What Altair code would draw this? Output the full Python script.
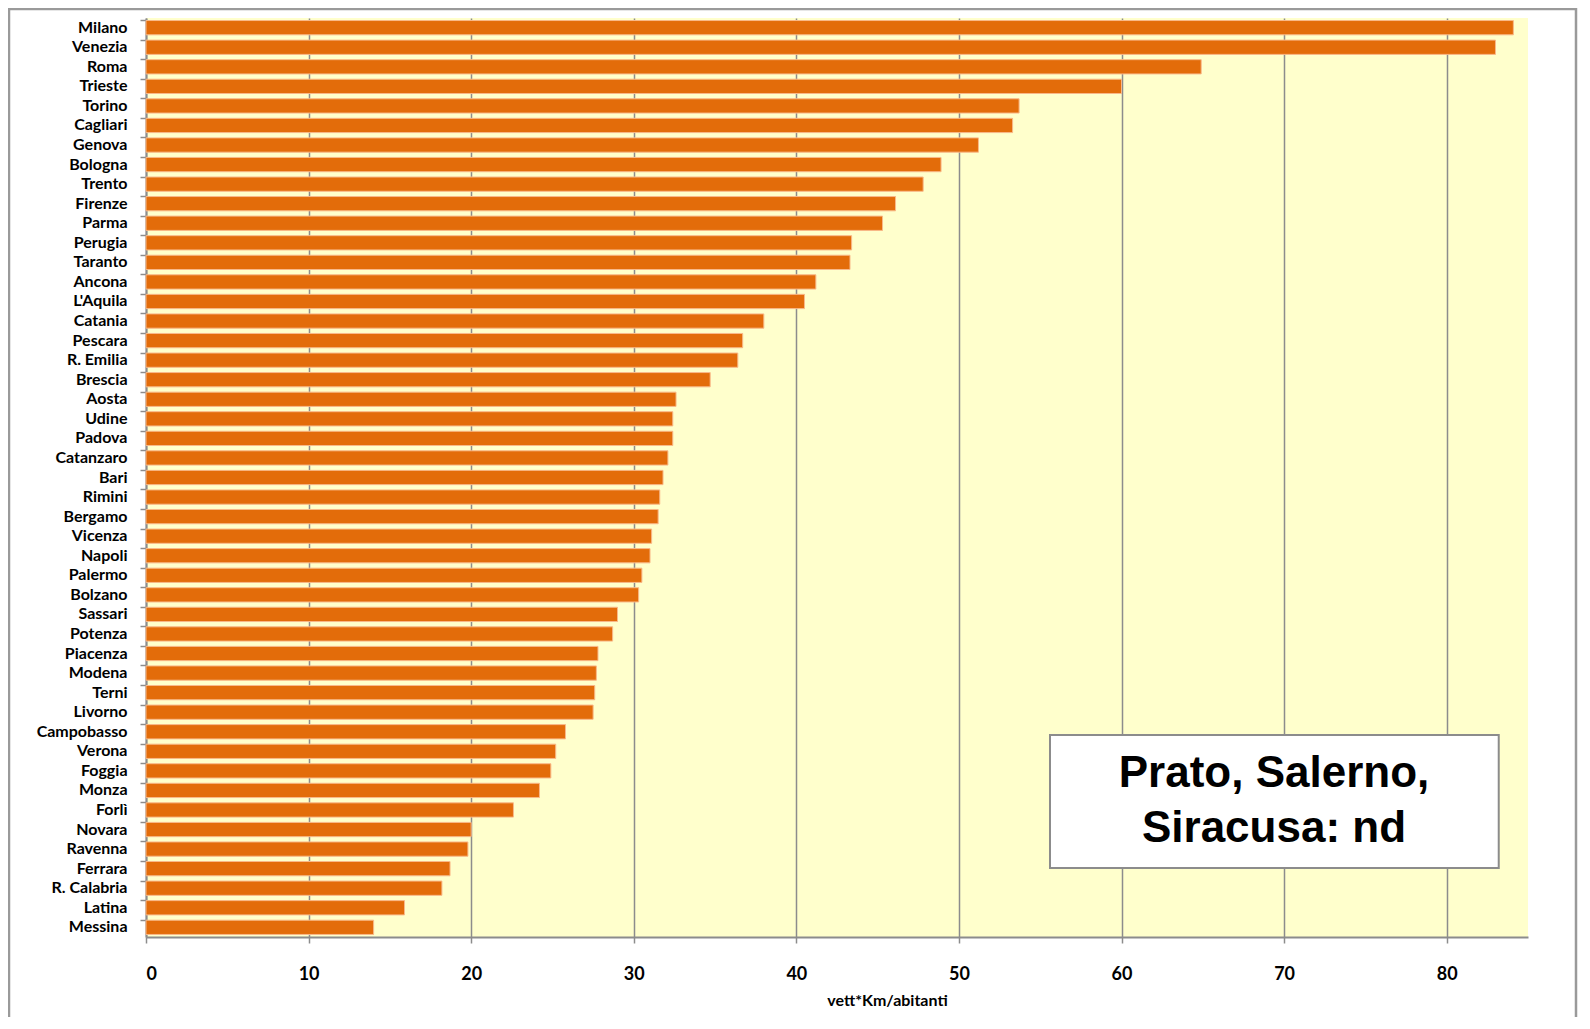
import altair as alt
import pandas as pd

cities = ["Milano", "Venezia", "Roma", "Trieste", "Torino", "Cagliari", "Genova", "Bologna",
          "Trento", "Firenze", "Parma", "Perugia", "Taranto", "Ancona", "L'Aquila", "Catania",
          "Pescara", "R. Emilia", "Brescia", "Aosta", "Udine", "Padova", "Catanzaro", "Bari",
          "Rimini", "Bergamo", "Vicenza", "Napoli", "Palermo", "Bolzano", "Sassari", "Potenza",
          "Piacenza", "Modena", "Terni", "Livorno", "Campobasso", "Verona", "Foggia", "Monza",
          "Forlì", "Novara", "Ravenna", "Ferrara", "R. Calabria", "Latina", "Messina"]
values = [84.1, 83.0, 64.9, 60.0, 53.7, 53.3, 51.2, 48.9,
          47.8, 46.1, 45.3, 43.4, 43.3, 41.2, 40.5, 38.0,
          36.7, 36.4, 34.7, 32.6, 32.4, 32.4, 32.1, 31.8,
          31.6, 31.5, 31.1, 31.0, 30.5, 30.3, 29.0, 28.7,
          27.8, 27.7, 27.6, 27.5, 25.8, 25.2, 24.9, 24.2,
          22.6, 20.0, 19.8, 18.7, 18.2, 15.9, 14.0]
x_ticks = [0, 10, 20, 30, 40, 50, 60, 70, 80]
note_text = "Prato, Salerno,\nSiracusa: nd"
note_x = [55.6, 83.2]

df = pd.DataFrame({"city": cities, "value": values})

W, H = 1382, 919
FONT = "Lato"

bars = alt.Chart(df).mark_bar(
    color="#E36C0A", stroke="#F9B98A", strokeWidth=1
).encode(
    x=alt.X("value:Q",
            scale=alt.Scale(domain=[0, 85], nice=False, zero=True),
            axis=alt.Axis(values=x_ticks, title="vett*Km/abitanti", format="d",
                          grid=True, gridColor="#8C8C8C", gridWidth=1.5,
                          domainColor="#8C8C8C", domainWidth=2,
                          tickColor="#8C8C8C", tickSize=6, tickWidth=1.5,
                          labelPadding=22, labelFont=FONT, labelFontSize=18,
                          labelFontWeight="bold", labelColor="#000000",
                          titleFont=FONT, titleFontSize=16, titleFontWeight="bold",
                          titleColor="#000000", titlePadding=9, titleX=741)),
    y=alt.Y("city:N", sort=cities,
            scale=alt.Scale(paddingInner=0.27, paddingOuter=0.13),
            axis=alt.Axis(title=None, bandPosition=0, tickSize=6, tickColor="#8C8C8C",
                          tickWidth=1.5, domainColor="#8C8C8C", domainWidth=2,
                          labelPadding=13, labelFont=FONT, labelFontSize=16,
                          labelFontWeight="bold", labelColor="#000000"))
)

note_df = pd.DataFrame({"x1": [note_x[0]], "x2": [note_x[1]], "label": [note_text]})

frame = alt.Chart(note_df).mark_rect(fill="transparent", stroke="#9A9A9A", strokeWidth=2.5).encode(
    x=alt.value(-137), x2=alt.value(1430), y=alt.value(-9), y2=alt.value(1200)
)
box = alt.Chart(note_df).mark_rect(fill="#FFFFFF", stroke="#8C8C8C", strokeWidth=2).encode(
    x="x1:Q", x2="x2:Q", y=alt.value(717), y2=alt.value(850)
)
label = alt.Chart(note_df).mark_text(
    font="Liberation Sans", fontSize=44, fontWeight="bold", color="#000000",
    lineBreak="\n", lineHeight=55, align="center", baseline="middle"
).encode(
    x=alt.value(1128), y=alt.value(756), text="label:N"
)

chart = alt.layer(frame, bars, box, label).properties(
    width=W, height=H,
    autosize=alt.AutoSizeParams(type="none"),
    padding={"left": 138, "top": 10, "right": 50, "bottom": 80},
    background="#FFFFFF"
).configure_view(fill="#FFFFCC", stroke=None)

chart.save("out.html", embed_options={"renderer": "svg", "actions": False})
